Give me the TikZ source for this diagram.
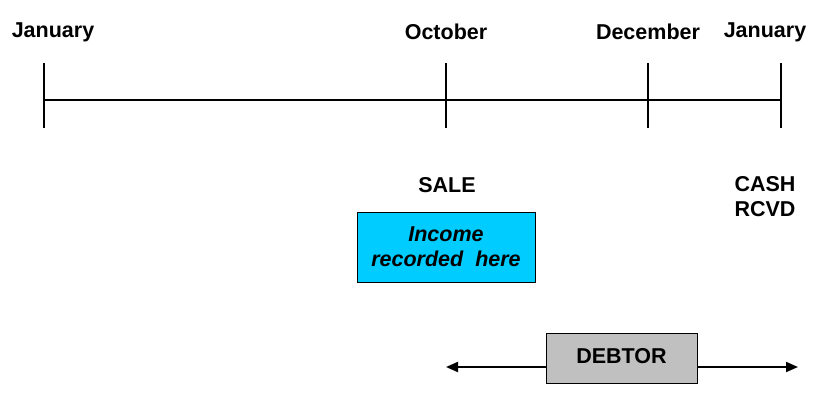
\documentclass[tikz,border=0pt]{standalone}
\usepackage{fontspec}
\setmainfont{Liberation Sans}
\usetikzlibrary{arrows.meta}
\begin{document}
\begin{tikzpicture}[x=1pt,y=-1pt,
  lbl/.style={font=\fontsize{21.5}{25}\selectfont\bfseries, inner sep=0pt, align=center},
  tick/.style={line width=2.2pt},
  axis/.style={line width=2pt},
  box/.style={draw=black, line width=1pt, inner sep=0pt, align=center},
  conn/.style={line width=2pt, -{Triangle[length=12pt,width=10pt]}}]
\useasboundingbox (0,0) rectangle (819,405);
% timeline coordinates
\coordinate (t0) at (44,100);
\coordinate (t1) at (446,100);
\coordinate (t2) at (648,100);
\coordinate (t3) at (781,100);
\draw[axis] (t0) -- (t1) -- (t2) -- (t3);
\foreach \c in {t0,t1,t2,t3}{
  \draw[tick] ([yshift=37pt]\c) -- ([yshift=-28pt]\c);
}
% month labels
\node[lbl] (m0) at (53,32) {January};
\node[lbl] (m1) at (446,32) {October};
\node[lbl] (m2) at (648,32) {December};
\node[lbl] (m3) at (765,32) {January};
% events
\node[lbl] (sale) at (447,185) {SALE};
\node[lbl] (cash) at (765,197) {CASH\\RCVD};
\node[box, fill={rgb,255:red,0;green,204;blue,255}, minimum width=178pt, minimum height=70pt,
  font=\fontsize{21.5}{25}\selectfont\bfseries\itshape] (income) at (446,247) {Income\\recorded\ \ here};
\node[box, fill={rgb,255:red,192;green,192;blue,192}, minimum width=151pt, minimum height=50pt,
  font=\fontsize{21.5}{25}\selectfont\bfseries] (debtor) at (621.5,358) {\raisebox{5pt}{DEBTOR}};
\coordinate (aL) at (446,367);
\coordinate (aR) at (798,367);
\draw[conn] (debtor.west |- aL) -- (aL);
\draw[conn] (debtor.east |- aR) -- (aR);
\end{tikzpicture}
\end{document}
